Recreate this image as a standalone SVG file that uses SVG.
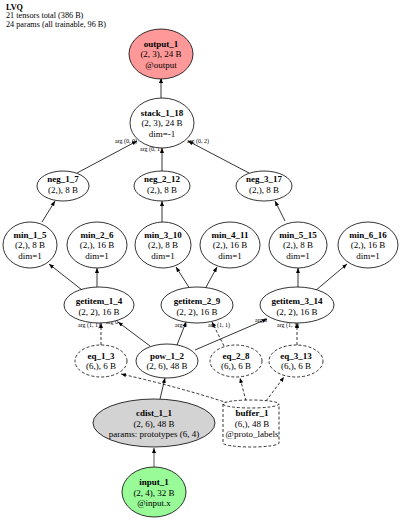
<svg xmlns="http://www.w3.org/2000/svg" width="400" height="520" viewBox="0 0 400 520">
<style>
text{font-family:"Liberation Serif","Times New Roman",serif;font-size:9px;fill:#000}
.n{font-weight:bold}
.m{text-anchor:middle}
.hd{font-size:8.2px}
.lbl{font-size:6px}
.sh{stroke:#000;stroke-width:0.8;fill:#fff}
.dash{stroke-dasharray:3,2}
.e{stroke:#000;stroke-width:0.8;fill:none;marker-end:url(#ah)}
</style>
<defs>
<marker id="ah" markerUnits="userSpaceOnUse" markerWidth="6" markerHeight="5" refX="5" refY="2" orient="auto">
<path d="M0,0 L5,2 L0,4 z" fill="#000"/>
</marker>
</defs>
<rect width="400" height="520" fill="#fff"/>
<g id="header">
<text x="6" y="9.5" class="n hd">LVQ</text>
<text x="6" y="18" class="hd">21 tensors total (386 B)</text>
<text x="6" y="26.5" class="hd">24 params (all trainable, 96 B)</text>
</g>
<g id="connectors">
<path class="e" style="stroke:#666;stroke-width:1.1" d="M154,467 L154,448"/>
<path class="e" d="M160,399 L165,378"/>
<path class="e dash" d="M228,403 Q175,386 121,374"/>
<path class="e dash" d="M246,401 L240,378"/>
<path class="e dash" d="M266,401 L284,377"/>
<path class="e dash" d="M101,345 L101,323"/>
<path class="e" d="M150,346 L118,322"/>
<path class="e" d="M177,345 L186,322"/>
<path class="e" d="M195,350 L267,319"/>
<path class="e dash" d="M224,346 L212,322"/>
<path class="e dash" d="M297,345 L297,323"/>
<path class="e" d="M82,290 L49,264"/>
<path class="e" d="M97,287 L97,268"/>
<path class="e" d="M190,289 L176,267"/>
<path class="e" d="M205,289 L217,267"/>
<path class="e" d="M298,287 L298,268"/>
<path class="e" d="M315,291 L347,264"/>
<path class="e" d="M42,222 L55,201"/>
<path class="e" d="M162,222 L162,201"/>
<path class="e" d="M285,221 L275,201"/>
<path class="e" d="M77,173 L137,141"/>
<path class="e" d="M162,171 L162,148"/>
<path class="e" d="M249,173 L188,141"/>
<path class="e" d="M161,98 L161,78"/>
<text class="lbl" x="115" y="142.5">arg (0, 0)</text>
<text class="lbl" x="140" y="150.5">arg (0, 1)</text>
<text class="lbl" x="187" y="142.5">arg (0, 2)</text>
<text class="lbl" x="78" y="326.5">arg (1, 1)</text>
<text class="lbl" x="106" y="323.5">arg 0</text>
<text class="lbl" x="175" y="326.5">arg 0</text>
<text class="lbl" x="208" y="326.5">arg (1, 1)</text>
<text class="lbl" x="255" y="321.5">arg 0</text>
<text class="lbl" x="277" y="326.5">arg (1, 1)</text>
</g>
<g id="output_1"><ellipse class="sh" cx="161" cy="54" rx="32" ry="25" style="fill:#ff9999"/>
<text class="n m" x="161" y="46.5">output_1</text><text class="m" x="161" y="57">(2, 3), 24 B</text><text class="m" x="161" y="67.5">@output</text></g>
<g id="stack_1_18"><ellipse class="sh" cx="162" cy="123" rx="32" ry="25"/>
<text class="n m" x="162" y="115.5">stack_1_18</text><text class="m" x="162" y="126">(2, 3), 24 B</text><text class="m" x="162" y="136.5">dim=-1</text></g>
<g id="neg_1_7"><ellipse class="sh" cx="63" cy="186" rx="26" ry="15"/>
<text class="n m" x="63" y="182">neg_1_7</text><text class="m" x="63" y="192.5">(2,), 8 B</text></g>
<g id="neg_2_12"><ellipse class="sh" cx="162" cy="186" rx="28" ry="15"/>
<text class="n m" x="162" y="182">neg_2_12</text><text class="m" x="162" y="192.5">(2,), 8 B</text></g>
<g id="neg_3_17"><ellipse class="sh" cx="264" cy="186" rx="28" ry="15"/>
<text class="n m" x="264" y="182">neg_3_17</text><text class="m" x="264" y="192.5">(2,), 8 B</text></g>
<g id="min_1_5"><ellipse class="sh" cx="30" cy="245" rx="27" ry="23"/>
<text class="n m" x="30" y="237.5">min_1_5</text><text class="m" x="30" y="248">(2,), 8 B</text><text class="m" x="30" y="258.5">dim=1</text></g>
<g id="min_2_6"><ellipse class="sh" cx="97" cy="245" rx="30" ry="23"/>
<text class="n m" x="97" y="237.5">min_2_6</text><text class="m" x="97" y="248">(2,), 16 B</text><text class="m" x="97" y="258.5">dim=1</text></g>
<g id="min_3_10"><ellipse class="sh" cx="163" cy="245" rx="28" ry="23"/>
<text class="n m" x="163" y="237.5">min_3_10</text><text class="m" x="163" y="248">(2,), 8 B</text><text class="m" x="163" y="258.5">dim=1</text></g>
<g id="min_4_11"><ellipse class="sh" cx="230" cy="245" rx="30" ry="23"/>
<text class="n m" x="230" y="237.5">min_4_11</text><text class="m" x="230" y="248">(2,), 16 B</text><text class="m" x="230" y="258.5">dim=1</text></g>
<g id="min_5_15"><ellipse class="sh" cx="298" cy="245" rx="29" ry="23"/>
<text class="n m" x="298" y="237.5">min_5_15</text><text class="m" x="298" y="248">(2,), 8 B</text><text class="m" x="298" y="258.5">dim=1</text></g>
<g id="min_6_16"><ellipse class="sh" cx="368" cy="245" rx="30" ry="23"/>
<text class="n m" x="368" y="237.5">min_6_16</text><text class="m" x="368" y="248">(2,), 16 B</text><text class="m" x="368" y="258.5">dim=1</text></g>
<g id="getitem_1_4"><ellipse class="sh" cx="99" cy="305" rx="35" ry="18"/>
<text class="n m" x="99" y="304">getitem_1_4</text><text class="m" x="99" y="314.5">(2, 2), 16 B</text></g>
<g id="getitem_2_9"><ellipse class="sh" cx="197" cy="305" rx="36" ry="18"/>
<text class="n m" x="197" y="304">getitem_2_9</text><text class="m" x="197" y="314.5">(2, 2), 16 B</text></g>
<g id="getitem_3_14"><ellipse class="sh" cx="297" cy="305" rx="37" ry="18"/>
<text class="n m" x="297" y="304">getitem_3_14</text><text class="m" x="297" y="314.5">(2, 2), 16 B</text></g>
<g id="eq_1_3"><ellipse class="sh dash" cx="101" cy="361" rx="26" ry="16"/>
<text class="n m" x="101" y="358.5">eq_1_3</text><text class="m" x="101" y="369">(6,), 6 B</text></g>
<g id="pow_1_2"><ellipse class="sh" cx="167" cy="361" rx="31" ry="17"/>
<text class="n m" x="167" y="358.5">pow_1_2</text><text class="m" x="167" y="369">(2, 6), 48 B</text></g>
<g id="eq_2_8"><ellipse class="sh dash" cx="236" cy="361" rx="26" ry="16"/>
<text class="n m" x="236" y="358.5">eq_2_8</text><text class="m" x="236" y="369">(6,), 6 B</text></g>
<g id="eq_3_13"><ellipse class="sh dash" cx="296" cy="361" rx="27" ry="16"/>
<text class="n m" x="296" y="358.5">eq_3_13</text><text class="m" x="296" y="369">(6,), 6 B</text></g>
<g id="cdist_1_1"><ellipse class="sh" cx="154" cy="423" rx="61" ry="24" style="fill:#d3d3d3"/>
<text class="n m" x="154" y="416">cdist_1_1</text><text class="m" x="154" y="426.5">(2, 6), 48 B</text><text class="m" x="154" y="437">params: prototypes (6, 4)</text></g>
<g id="buffer_1"><path class="sh dash" d="M223,404 a28,4 0 0,0 56,0 a28,4 0 0,0 -56,0 v39 a28,4 0 0,0 56,0 v-39"/>
<text class="n m" x="252" y="416">buffer_1</text><text class="m" x="252" y="426.5">(6,), 48 B</text><text class="m" x="252" y="437">@proto_labels</text></g>
<g id="input_1"><ellipse class="sh" cx="154" cy="492" rx="32" ry="25" style="fill:#98fb98"/>
<text class="n m" x="154" y="485">input_1</text><text class="m" x="154" y="495.5">(2, 4), 32 B</text><text class="m" x="154" y="506">@input.x</text></g>
</svg>
